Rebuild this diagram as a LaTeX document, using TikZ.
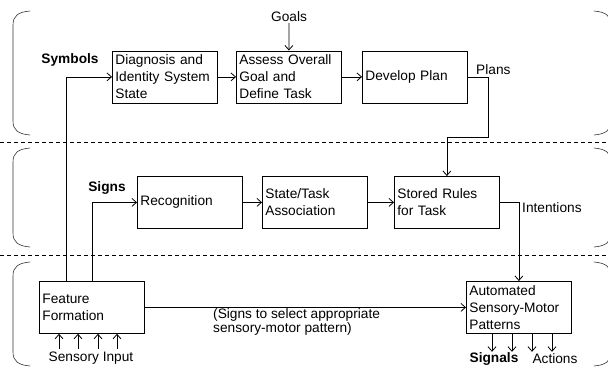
\documentclass[tikz,border=0pt]{standalone}
\usepackage{fontspec}
\setmainfont{Liberation Sans}
\usetikzlibrary{positioning, arrows.meta}

\begin{document}
\begin{tikzpicture}
            [x=1pt, y=-1pt,
              every node/.style={font=\fontsize{13.7}{17}\selectfont},
              blk/.style={draw=black, line width=0.8pt, anchor=north west,
                inner sep=3pt, text width=99pt, minimum height=52pt, align=left},
              lbl/.style={inner sep=1pt},
              arr/.style={line width=0.8pt, -{Straight Barb[length=4.5pt, width=8pt]}},
              sep/.style={line width=0.7pt, dash pattern=on 4pt off 3pt},
              brc/.style={line width=0.6pt, black!80}]
            \useasboundingbox (0,0) rectangle (608,367);
            % the three layers
            \draw[sep] (0,142) -- (608,142);
            \draw[sep] (0,255) -- (608,255);
            \begin{scope}
              \clip (0,0) rectangle (608,367);
              \foreach \t/\b in {11/135, 148/247, 262/366} {
                \draw[brc] (30,\t) .. controls (18,\t+1) and (13,\t+5) .. (13,\t+14)
                  -- (13,\b-14) .. controls (13,\b-5) and (18,\b-1) .. (30,\b);
                \draw[brc] (594,\t) .. controls (606,\t+1) and (611,\t+5) .. (611,\t+14)
                  -- (611,\b-14) .. controls (611,\b-5) and (606,\b-1) .. (594,\b);
              }
            \end{scope}
            % boxes
            \node[blk] (diag) at (112,50.5) {Diagnosis and\\Identity System\\State};
            \node[blk] (assess) at (236,50.5) {Assess Overall\\Goal and\\Define Task};
            \node[blk] (plan) at (362,50.5) {Develop Plan};
            \node[blk] (recog) at (137,176) {Recognition};
            \node[blk] (assoc) at (262,176) {State/Task\\Association};
            \node[blk] (rules) at (394,176) {Stored Rules\\for Task};
            \node[blk] (feat) at (39,281) {Feature\\Formation};
            \node[blk] (auto) at (466,281) {Automated\\Sensory-Motor\\Patterns};
            % labels
            \node[lbl] (sym) at (70,60) {\bfseries Symbols};
            \node[lbl] (sgn) at (107,188) {\bfseries Signs};
            \node[lbl] (goals) at (289,17) {Goals};
            \node[lbl, anchor=west] (plans) at (475,70) {Plans};
            \node[lbl, anchor=west] (int) at (521,208) {Intentions};
            \node[lbl] (sens) at (91,358) {Sensory Input};
            \node[lbl] (sig) at (494,359) {\bfseries Signals};
            \node[lbl] (act) at (555,359) {Actions};
            \node[lbl, anchor=north west, align=left,
              font=\fontsize{13.7}{14.5}\selectfont] (note) at (212,307)
              {(Signs to select appropriate\\sensory-motor pattern)};
            \coordinate (bend) at (488,137);
            % connectors
            \draw[arr] (goals.south) -- (assess.north);
            \draw[arr] (diag) -- (assess);
            \draw[arr] (assess) -- (plan);
            \draw[arr] (plan.east) -| (bend) -| (rules.north);
            \draw[arr] ([xshift=27pt]feat.north west) |- (diag.west);
            \draw[arr] ([xshift=53pt]feat.north west) |- (recog.west);
            \draw[arr] (recog) -- (assoc);
            \draw[arr] (assoc) -- (rules);
            \draw[arr] (rules.east) -| (auto.north);
            \draw[arr] (feat) -- (auto);
            \foreach \dx in {20,39,59,78}
              \draw[arr] (feat.south west) ++(\dx,15) -- ++(0,-15);
            \foreach \dx in {26,46,66,86}
              \draw[arr] (auto.south west) ++(\dx,0) -- ++(0,18);
        \end{tikzpicture}
\end{document}
